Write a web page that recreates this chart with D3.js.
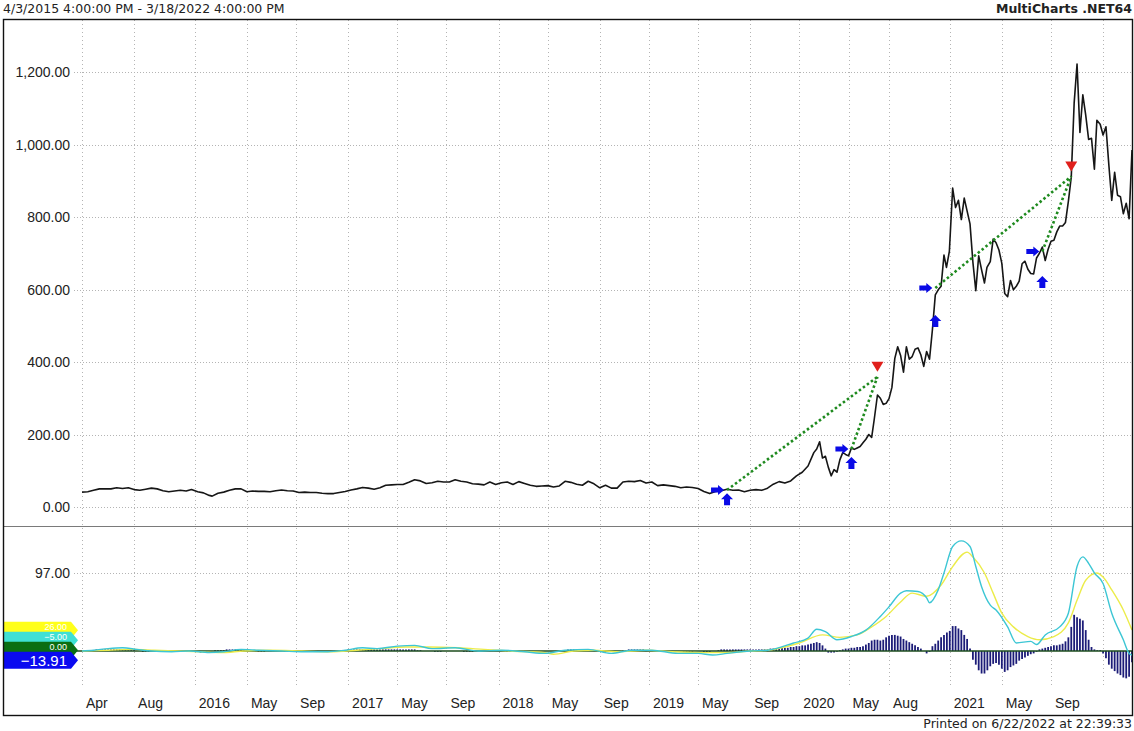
<!DOCTYPE html>
<html>
<head>
<meta charset="utf-8">
<script src="https://cdn.jsdelivr.net/npm/d3@7"></script>
<style>
  body { margin: 0; background: #fff; }
  text { font-family: "Liberation Sans", Arial, sans-serif; }
</style>
</head>
<body>
<svg id="chart" width="1134" height="731"></svg>
<script>
// weekly closes
const priceSeries = [
  ["2015-04-03",41],["2015-04-17",42],["2015-05-01",46],["2015-05-15",50],["2015-05-29",50],["2015-06-12",50],["2015-06-26",53],["2015-07-10",51],["2015-07-24",53],["2015-08-07",48],["2015-08-21",46],["2015-09-04",49],["2015-09-18",52],["2015-10-02",50],["2015-10-16",45],["2015-10-30",42],["2015-11-13",44],["2015-11-27",46],["2015-12-11",44],["2015-12-24",48],
  ["2016-01-08",42],["2016-01-22",39],["2016-02-05",32],["2016-02-12",30],["2016-02-26",38],["2016-03-11",41],["2016-03-25",46],["2016-04-08",50],["2016-04-22",50],["2016-05-06",42],["2016-05-20",44],["2016-06-03",43],["2016-06-17",43],["2016-07-01",42],["2016-07-15",45],["2016-07-29",47],["2016-08-12",45],["2016-08-26",44],["2016-09-09",40],["2016-09-23",41],["2016-10-07",40],["2016-10-21",40],["2016-11-04",38],["2016-11-18",37],["2016-12-02",37],["2016-12-16",40],["2016-12-30",43],
  ["2017-01-13",47],["2017-01-27",50],["2017-02-10",54],["2017-02-24",52],["2017-03-10",49],["2017-03-24",53],["2017-04-07",60],["2017-04-21",61],["2017-05-05",62],["2017-05-19",62],["2017-06-02",68],["2017-06-16",75],["2017-06-30",72],["2017-07-14",65],["2017-07-28",67],["2017-08-11",71],["2017-08-25",69],["2017-09-08",69],["2017-09-22",75],["2017-10-06",71],["2017-10-20",69],["2017-11-03",64],["2017-11-17",63],["2017-12-01",61],["2017-12-15",69],["2017-12-29",62],
  ["2018-01-12",67],["2018-01-26",69],["2018-02-09",62],["2018-02-23",70],["2018-03-09",65],["2018-03-23",60],["2018-04-06",57],["2018-04-20",58],["2018-05-04",59],["2018-05-18",55],["2018-06-01",58],["2018-06-15",71],["2018-06-29",68],["2018-07-13",63],["2018-07-27",60],["2018-08-10",71],["2018-08-24",64],["2018-09-07",53],["2018-09-21",60],["2018-10-05",52],["2018-10-19",52],["2018-11-02",69],["2018-11-16",71],["2018-11-30",70],["2018-12-14",73],["2018-12-28",66],
  ["2019-01-11",69],["2019-01-25",59],["2019-02-08",61],["2019-02-22",59],["2019-03-08",57],["2019-03-22",53],["2019-04-05",55],["2019-04-19",54],["2019-05-03",51],["2019-05-17",43],["2019-05-31",37],["2019-06-14",43],["2019-06-28",45],["2019-07-12",49],["2019-07-26",46],["2019-08-09",47],["2019-08-23",42],["2019-09-06",46],["2019-09-20",48],["2019-10-04",46],["2019-10-18",52],["2019-11-01",63],["2019-11-15",70],["2019-11-29",66],["2019-12-13",72],["2019-12-27",86],
  ["2020-01-10",96],["2020-01-24",113],["2020-02-07",150],["2020-02-14",160],["2020-02-21",180],["2020-02-28",135],["2020-03-06",140],["2020-03-13",110],["2020-03-20",86],["2020-03-27",103],["2020-04-03",96],["2020-04-10",130],["2020-04-17",150],["2020-04-24",145],["2020-05-01",141],["2020-05-08",163],["2020-05-15",159],["2020-05-22",163],["2020-05-29",167],["2020-06-05",177],["2020-06-12",187],["2020-06-19",200],["2020-06-26",192],["2020-07-02",240],["2020-07-10",309],["2020-07-17",300],["2020-07-24",283],["2020-07-31",286],["2020-08-07",299],["2020-08-14",330],["2020-08-21",410],["2020-08-28",442],["2020-09-04",418],["2020-09-11",372],["2020-09-18",442],["2020-09-25",408],["2020-10-02",415],["2020-10-09",435],["2020-10-16",439],["2020-10-23",420],["2020-10-30",388],["2020-11-06",429],["2020-11-13",408],["2020-11-20",489],["2020-11-27",585],["2020-12-04",599],["2020-12-11",609],["2020-12-18",695],["2020-12-24",661],["2020-12-31",705],
  ["2021-01-08",880],["2021-01-15",826],["2021-01-22",846],["2021-01-29",793],["2021-02-05",852],["2021-02-12",816],["2021-02-19",781],["2021-02-26",675],["2021-03-05",597],["2021-03-12",693],["2021-03-19",654],["2021-03-26",618],["2021-04-01",661],["2021-04-09",677],["2021-04-16",739],["2021-04-23",729],["2021-04-30",709],["2021-05-07",672],["2021-05-14",589],["2021-05-21",580],["2021-05-28",625],["2021-06-04",599],["2021-06-11",609],["2021-06-18",623],["2021-06-25",671],["2021-07-02",678],["2021-07-09",656],["2021-07-16",644],["2021-07-23",643],["2021-07-30",687],["2021-08-06",700],["2021-08-13",717],["2021-08-20",680],["2021-08-27",711],["2021-09-03",733],["2021-09-10",736],["2021-09-17",759],["2021-09-24",775],["2021-10-01",775],["2021-10-08",785],["2021-10-15",843],["2021-10-22",910],["2021-10-29",1114],["2021-11-05",1222],["2021-11-12",1033],["2021-11-19",1137],["2021-11-26",1081],["2021-12-03",1014],["2021-12-10",1017],["2021-12-17",932],["2021-12-23",1067],["2021-12-31",1056],
  ["2022-01-07",1026],["2022-01-14",1049],["2022-01-21",943],["2022-01-28",846],["2022-02-04",923],["2022-02-11",860],["2022-02-18",856],["2022-02-25",809],["2022-03-04",838],["2022-03-11",795],["2022-03-18",985]
];

// lower pane: fast (cyan) and slow (yellow) lines
const oscFast = [
  ["2015-04-03",0],["2015-05-01",1],["2015-06-05",3],["2015-07-10",4],["2015-08-14",2],["2015-09-18",0],["2015-11-06",-1],["2015-12-18",0],["2016-02-05",-2],["2016-03-11",-1],["2016-04-22",2],["2016-06-03",1],["2016-07-29",0],["2016-09-23",-1],["2016-11-18",-1],["2016-12-30",1],
  ["2017-02-10",4],["2017-03-17",3],["2017-05-05",6],["2017-06-16",7],["2017-07-28",3],["2017-09-22",4],["2017-11-17",0],["2018-01-12",1],["2018-03-09",-1],["2018-04-27",-3],["2018-06-15",1],["2018-08-10",2],["2018-10-05",-3],["2018-11-23",1],["2019-01-11",1],["2019-03-15",-3],["2019-05-03",-3],["2019-06-07",-5],["2019-07-12",-3],["2019-09-06",0],["2019-10-18",1],["2019-12-20",10],
  ["2020-01-24",16],["2020-02-14",27],["2020-03-06",24],["2020-04-03",14],["2020-05-08",18],["2020-06-12",26],["2020-07-17",43],["2020-08-07",55],["2020-09-04",72],["2020-09-18",75],["2020-10-16",74],["2020-11-06",66],["2020-11-13",60],["2020-12-04",76],["2020-12-18",97],
  ["2021-01-08",130],["2021-01-29",137],["2021-02-19",130],["2021-03-05",105],["2021-03-19",80],["2021-04-09",57],["2021-04-23",51],["2021-05-21",30],["2021-06-11",10],["2021-07-16",12],["2021-07-30",8],["2021-08-20",20],["2021-09-24",30],["2021-10-15",47],["2021-11-05",105],["2021-11-19",117],["2021-12-03",109],["2021-12-17",97],
  ["2022-01-07",84],["2022-01-28",47],["2022-02-25",14],["2022-03-11",-3],["2022-03-18",-5]
];
const oscSlow = [
  ["2015-04-03",0],["2015-06-05",1],["2015-08-07",2],["2015-09-25",1],["2015-11-20",0],["2016-01-15",-1],["2016-03-04",-2],["2016-04-29",0],["2016-07-01",1],["2016-09-16",0],["2016-11-25",-1],
  ["2017-01-27",1],["2017-03-24",3],["2017-05-26",5],["2017-07-21",5],["2017-09-29",4],["2017-12-01",2],["2018-02-02",0],["2018-04-27",-2],["2018-05-18",-4],["2018-07-06",0],["2018-08-24",1],["2018-10-19",-1],["2018-12-28",1],["2019-03-01",-1],["2019-05-10",-2],["2019-07-12",-2],["2019-09-06",0],["2019-10-18",1],
  ["2020-01-03",10],["2020-02-28",20],["2020-04-10",17],["2020-05-22",20],["2020-06-26",30],["2020-07-31",43],["2020-09-04",61],["2020-10-02",72],["2020-11-06",68],["2020-12-11",82],
  ["2021-01-08",105],["2021-02-12",123],["2021-02-26",117],["2021-03-26",97],["2021-04-16",72],["2021-05-07",47],["2021-06-04",30],["2021-07-09",18],["2021-08-06",14],["2021-09-10",18],["2021-10-15",35],["2021-11-05",63],["2021-11-26",88],["2021-12-23",97],
  ["2022-01-07",92],["2022-01-28",76],["2022-02-25",51],["2022-03-18",26]
];

// histogram, one value per weekly bar starting 2015-04-03
const histValues = [
  0,0,0, 1,1,2,2,2,2,2,2,2,2,2,2,2,1,1,1, 0,0,-1,-1,-1,0,0,0,0,0,0,0, 0,-1,-1,-1,-1,-1,0,0,
  -1,-1,-2,-1,-1,0,0,1,1,1, 1,2,2,2,2,2,2,1,1,0,
  0,0,-1,-1,-1,0,0,0,0,0,0,-1,-1,-1,-1,0,0,0,0,0,0,0,-1,-1,-1,0,0,0,0,0,0,1,
  1,2,2,2,2,2,2,2,2,2,2,2,2,2,2,2,2,2,2,2,2,2,2,2,2,1,1,
  0,0,0,0,-1,-1,-1,0,0,0,0,0,0,0,-1,-1,-1,-1,0,0,0,0,0,0,0,0,0,0,0,-1,-1,-1,-1,-1,0,0,0,0,0,0,0,0,0,0,0,0,0,0,
  1,1,2,2,2,2,2,2,2,1,1,1, 0,0,0,-1,-1,-1,0,0,0, 1,1,2,2,2,2,2,2,1,1,1,
  0,0,0,0,-1,-1,-1,-1,0,0,-1,-1,-1,-1,0,
  // from 2019-05-03
  0,0,-1,-1,-1,0,0,1, 2,2,2,2,2,2,2,2,2,2,2,2,2,2,2,2,2, 3,3,3,4,4,4,4, 5,5,6,6,7,7, 8,9,10,11,10,
  7,3,-2,-2,-2,-1, 1,2,3, 3,4,4,5,5,6,8,10, 13,14,14,13,14,17, 19,20,20,19,18, 15,13,11,9,7,5,
  3,0,-3,-1, 6,9,13,17, 20,23,25, 31,31,28,26,20,15, 3, -11,-17,-24,-28,-28, -24,-19,-16,-15,-17,
  -22,-26,-24,-20,-18,-16,-12, -10,-8,-6,-4,-3,-1, 2,3,4,5,6,7,7,8, 9,12,17, 30,45,42,40,38,
  26,14,5, 2,1,1, -3,-9, -17,-22,-25,-28,-30,-33,-34,-32, -13.91
];

// trades: entry (blue arrows) and exit (red triangle), joined by dotted green lines
const entryDates  = ["2019-07-12","2020-05-08","2020-11-27","2021-08-13"];
const entryPrices = [47, 160, 604, 705];
const entryLows   = [38, 138, 530, 637];
const exitDates   = ["2020-07-10","2020-07-10","2021-10-22","2021-10-22"];
const exitPrices  = [359, 359, 912, 912];

const tickMonths = ["2015-04","2015-08","2016-01","2016-05","2016-09","2017-01","2017-05","2017-09","2018-01","2018-05","2018-09","2019-01","2019-05","2019-09","2020-01","2020-05","2020-08","2021-01","2021-05","2021-09","2022-01"];
const tickLabels = ["Apr","Aug","2016","May","Sep","2017","May","Sep","2018","May","Sep","2019","May","Sep","2020","May","Aug","2021","May","Sep",""];
const priceTicks = [0,200,400,600,800,1000,1200];
const oscTicks = [97];

const parse = d3.timeParse("%Y-%m-%d");
const firstBar = parse("2015-04-03"), lastBar = parse("2022-03-18");
const weeks = d3.timeFriday.range(firstBar, d3.timeDay.offset(lastBar, 1));

const svg = d3.select("#chart");

const x = d3.scaleTime().domain([firstBar, lastBar]).range([82, 1132]);
const yPrice = d3.scaleLinear().domain([0, 1200]).range([507, 72]);
const yOsc = d3.scaleLinear().domain([0, 97]).range([651, 573]);
const fmt = d3.format(",.2f");

// clip regions for panes
const defs = svg.append("defs");
defs.append("clipPath").attr("id","clipMain").append("rect").attr("x",4).attr("y",20).attr("width",1129).attr("height",505);
defs.append("clipPath").attr("id","clipOsc").append("rect").attr("x",4).attr("y",527).attr("width",1129).attr("height",161);

// header
svg.append("text").attr("x",3).attr("y",13).style("font-family","DejaVu Sans").style("font-size","12.5px").attr("fill","#222")
  .text("4/3/2015 4:00:00 PM - 3/18/2022 4:00:00 PM");
svg.append("text").attr("x",1132).attr("y",13).attr("text-anchor","end").style("font-family","DejaVu Sans").style("font-size","12.5px").style("font-weight","bold").attr("fill","#222")
  .text("MultiCharts .NET64");
svg.append("text").attr("x",1132).attr("y",728).attr("text-anchor","end").style("font-family","DejaVu Sans").style("font-size","12.5px").attr("fill","#222")
  .text("Printed on 6/22/2022 at 22:39:33");

// vertical grid
const tickDates = tickMonths.map(m => d3.timeFriday.ceil(parse(m + "-01")));
svg.append("g").selectAll("line").data(tickDates).enter().append("line")
  .attr("x1", d => Math.round(x(d)) + 0.5).attr("x2", d => Math.round(x(d)) + 0.5)
  .attr("y1", 20).attr("y2", 688)
  .attr("stroke","#b4b4b4").attr("stroke-dasharray","1,3");

// horizontal grid
svg.append("g").selectAll("line").data(priceTicks).enter().append("line")
  .attr("x1", 74).attr("x2", 1132)
  .attr("y1", d => Math.round(yPrice(d)) + 0.5).attr("y2", d => Math.round(yPrice(d)) + 0.5)
  .attr("stroke","#b4b4b4").attr("stroke-dasharray","1,2");
svg.append("g").selectAll("line").data(oscTicks).enter().append("line")
  .attr("x1", 74).attr("x2", 1132)
  .attr("y1", d => Math.round(yOsc(d)) + 0.5).attr("y2", d => Math.round(yOsc(d)) + 0.5)
  .attr("stroke","#b4b4b4").attr("stroke-dasharray","1,2");

// y labels
svg.append("g").selectAll("text").data(priceTicks).enter().append("text")
  .attr("x", 70).attr("y", d => yPrice(d)).attr("dy","0.36em").attr("text-anchor","end")
  .style("font-size","14px").attr("fill","#222").text(d => fmt(d));
svg.append("g").selectAll("text").data(oscTicks).enter().append("text")
  .attr("x", 70).attr("y", d => yOsc(d)).attr("dy","0.36em").attr("text-anchor","end")
  .style("font-size","14px").attr("fill","#222").text(d => fmt(d));

// x labels
svg.append("g").selectAll("text").data(tickDates).enter().append("text")
  .attr("x", d => x(d) + 4).attr("y", 708)
  .style("font-size","14px").attr("fill","#222")
  .text((d, i) => tickLabels[i]);

// price line
const mainG = svg.append("g").attr("clip-path","url(#clipMain)");
const priceLine = d3.line().x(d => x(parse(d[0]))).y(d => yPrice(d[1]));
mainG.append("path").datum(priceSeries).attr("d", priceLine)
  .attr("fill","none").attr("stroke","#161616").attr("stroke-width",1.6).attr("stroke-linejoin","round");

// trade lines
mainG.append("g").selectAll("line").data(entryDates).enter().append("line")
  .attr("x1", d => x(parse(d))).attr("y1", (d, i) => yPrice(entryPrices[i]))
  .attr("x2", (d, i) => x(parse(exitDates[i]))).attr("y2", (d, i) => yPrice(exitPrices[i]))
  .attr("stroke","#1f8a1f").attr("stroke-width",2.6).attr("stroke-dasharray","2.5,2.5");

// entry arrows
mainG.append("g").selectAll("path").data(entryDates).enter().append("path")
  .attr("d", (d, i) => {
    const tx = x(parse(d)) - 3, cy = yPrice(entryPrices[i]);
    return `M${tx},${cy} L${tx-6},${cy-5} L${tx-6},${cy-2.5} L${tx-13},${cy-2.5} L${tx-13},${cy+2.5} L${tx-6},${cy+2.5} L${tx-6},${cy+5} Z`;
  })
  .attr("fill","#0a0ae6");
mainG.append("g").selectAll("path").data(entryDates).enter().append("path")
  .attr("d", (d, i) => {
    const cx = x(parse(d)), ty = yPrice(entryLows[i]);
    return `M${cx},${ty} L${cx+6},${ty+6} L${cx+3},${ty+6} L${cx+3},${ty+12} L${cx-3},${ty+12} L${cx-3},${ty+6} L${cx-6},${ty+6} Z`;
  })
  .attr("fill","#0a0ae6");

// exit triangles
const exitKeys = [...new Set(exitDates.map((d, i) => d + "|" + exitPrices[i]))];
mainG.append("g").selectAll("path").data(exitKeys).enter().append("path")
  .attr("d", k => {
    const [d, p] = k.split("|");
    const cx = x(parse(d)), tip = yPrice(+p) - 5;
    return `M${cx},${tip} L${cx-6},${tip-10} L${cx+6},${tip-10} Z`;
  })
  .attr("fill","#e0201c");

// oscillator pane
const oscG = svg.append("g").attr("clip-path","url(#clipOsc)");
oscG.append("g").selectAll("line").data(histValues).enter().append("line")
  .attr("x1", (d, i) => x(weeks[i])).attr("x2", (d, i) => x(weeks[i]))
  .attr("y1", yOsc(0)).attr("y2", d => yOsc(d))
  .attr("stroke","#1c1c78").attr("stroke-width",1.8);

oscG.append("line").attr("x1",4).attr("x2",1133).attr("y1",yOsc(0)).attr("y2",yOsc(0))
  .attr("stroke","#1d4d1d").attr("stroke-width",1.6);

const oscLine = d3.line().x(d => x(parse(d[0]))).y(d => yOsc(d[1])).curve(d3.curveMonotoneX);
oscG.append("path").datum(oscSlow).attr("d", oscLine)
  .attr("fill","none").attr("stroke","#ecec4a").attr("stroke-width",1.4);
oscG.append("path").datum(oscFast).attr("d", oscLine)
  .attr("fill","none").attr("stroke","#3cc6d4").attr("stroke-width",1.4);

// value tags on the left of the oscillator pane, stacked upward from the last bar value
const lastHist = histValues[histValues.length - 1];
const tags = [
  {v: oscSlow[oscSlow.length-1][1], c: "#ffff1a"},
  {v: oscFast[oscFast.length-1][1], c: "#3fe0d4"},
  {v: 0, c: "#0b6e12"},
  {v: lastHist, c: "#0a0af0"}
];
const baseY = yOsc(lastHist) - 2;
tags.forEach((t, i) => { t.cy = baseY - (tags.length - 1 - i) * 10; });
const tagG = svg.append("g");
tags.forEach((t, i) => {
  const top = t.cy - 8.5, bot = t.cy + 8.5;
  const last = i === tags.length - 1;
  tagG.append("path")
    .attr("d", `M4,${top} L71,${top} L78,${t.cy} L71,${bot} L4,${bot} Z`)
    .attr("fill", t.c);
  // covered tags only show a 10px strip, so their value is set small inside that strip
  tagG.append("text").attr("x", 67)
    .attr("y", last ? t.cy : top + 5).attr("dy","0.36em").attr("text-anchor","end")
    .style("font-size", last ? "15px" : "9px").attr("fill","#fff").text(fmt(t.v));
});

// pane separator and frame
svg.append("line").attr("x1",3).attr("x2",1133).attr("y1",526.5).attr("y2",526.5).attr("stroke","#7a7a7a").attr("stroke-width",1);
svg.append("rect").attr("x",3.5).attr("y",19.5).attr("width",1129).attr("height",696)
  .attr("fill","none").attr("stroke","#111").attr("stroke-width",1.4);
</script>
</body>
</html>
